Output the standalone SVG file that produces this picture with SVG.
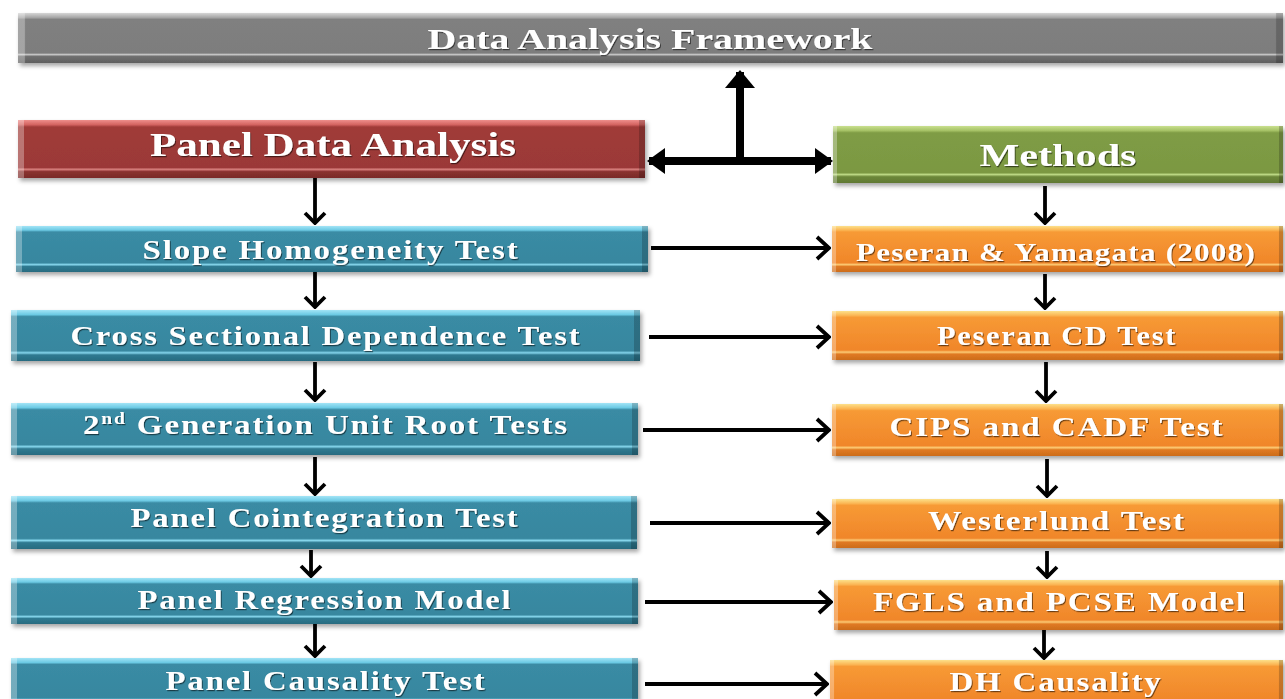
<svg xmlns="http://www.w3.org/2000/svg" width="1285" height="699" viewBox="0 0 1285 699">
  <defs>
    <!-- vertical bevel gradients per colour -->
    <linearGradient id="gGray" x1="0" y1="0" x2="0" y2="1">
      <stop offset="0" stop-color="#d6d6d6"/>
      <stop offset="0.09" stop-color="#a6a6a6"/>
      <stop offset="0.13" stop-color="#808080"/>
      <stop offset="0.80" stop-color="#7d7d7d"/>
      <stop offset="0.83" stop-color="#c4c4c4"/>
      <stop offset="0.87" stop-color="#6f6f6f"/>
      <stop offset="1" stop-color="#5e5e5e"/>
    </linearGradient>
    <linearGradient id="gRed" x1="0" y1="0" x2="0" y2="1">
      <stop offset="0" stop-color="#ef8f8c"/>
      <stop offset="0.08" stop-color="#d46461"/>
      <stop offset="0.12" stop-color="#a03b39"/>
      <stop offset="0.82" stop-color="#9b3937"/>
      <stop offset="0.85" stop-color="#d9807e"/>
      <stop offset="0.89" stop-color="#8a3230"/>
      <stop offset="1" stop-color="#7a2b29"/>
    </linearGradient>
    <linearGradient id="gGreen" x1="0" y1="0" x2="0" y2="1">
      <stop offset="0" stop-color="#c9e08f"/>
      <stop offset="0.08" stop-color="#a6c266"/>
      <stop offset="0.12" stop-color="#7f9c45"/>
      <stop offset="0.82" stop-color="#7b9842"/>
      <stop offset="0.85" stop-color="#bcd884"/>
      <stop offset="0.89" stop-color="#6d883a"/>
      <stop offset="1" stop-color="#5f7832"/>
    </linearGradient>
    <linearGradient id="gBlue" x1="0" y1="0" x2="0" y2="1">
      <stop offset="0" stop-color="#a3e4f6"/>
      <stop offset="0.09" stop-color="#6ccae4"/>
      <stop offset="0.13" stop-color="#3a8ba4"/>
      <stop offset="0.80" stop-color="#37879f"/>
      <stop offset="0.84" stop-color="#86d6ec"/>
      <stop offset="0.88" stop-color="#2f7a91"/>
      <stop offset="1" stop-color="#286b80"/>
    </linearGradient>
    <linearGradient id="gOrange" x1="0" y1="0" x2="0" y2="1">
      <stop offset="0" stop-color="#fde08a"/>
      <stop offset="0.09" stop-color="#fbb654"/>
      <stop offset="0.13" stop-color="#f79a35"/>
      <stop offset="0.80" stop-color="#f0862a"/>
      <stop offset="0.84" stop-color="#fcca74"/>
      <stop offset="0.88" stop-color="#e07a22"/>
      <stop offset="1" stop-color="#cc6c1c"/>
    </linearGradient>
    <!-- side bevels -->
    <linearGradient id="gSide" x1="0" y1="0" x2="1" y2="0">
      <stop offset="0" stop-color="#ffffff" stop-opacity="0.3"/>
      <stop offset="0.009" stop-color="#ffffff" stop-opacity="0.3"/>
      <stop offset="0.010" stop-color="#ffffff" stop-opacity="0"/>
      <stop offset="0.990" stop-color="#000000" stop-opacity="0"/>
      <stop offset="0.991" stop-color="#000000" stop-opacity="0.2"/>
      <stop offset="1" stop-color="#000000" stop-opacity="0.2"/>
    </linearGradient>
    <linearGradient id="gSideWide" x1="0" y1="0" x2="1" y2="0">
      <stop offset="0" stop-color="#ffffff" stop-opacity="0.3"/>
      <stop offset="0.005" stop-color="#ffffff" stop-opacity="0.3"/>
      <stop offset="0.006" stop-color="#ffffff" stop-opacity="0"/>
      <stop offset="0.994" stop-color="#000000" stop-opacity="0"/>
      <stop offset="0.995" stop-color="#000000" stop-opacity="0.2"/>
      <stop offset="1" stop-color="#000000" stop-opacity="0.2"/>
    </linearGradient>
    <filter id="shadow" x="-5%" y="-20%" width="110%" height="150%">
      <feDropShadow dx="2" dy="3" stdDeviation="2" flood-color="#000" flood-opacity="0.35"/>
    </filter>
    <filter id="tshadow" x="-5%" y="-30%" width="110%" height="160%">
      <feDropShadow dx="1" dy="1.2" stdDeviation="0.6" flood-color="#000" flood-opacity="0.55"/>
    </filter>
    <marker id="chevH" viewBox="0 0 16 26" refX="14" refY="13" markerWidth="16" markerHeight="26" markerUnits="userSpaceOnUse" orient="auto">
      <path d="M2,2 L14,13 L2,24" fill="none" stroke="#000" stroke-width="3.8"/>
    </marker>
    <marker id="chevV" viewBox="0 0 14 24" refX="12" refY="12" markerWidth="14" markerHeight="24" markerUnits="userSpaceOnUse" orient="auto">
      <path d="M2,2 L12,12 L2,22" fill="none" stroke="#000" stroke-width="3.8"/>
    </marker>
    <marker id="block" viewBox="0 0 18 26" refX="16" refY="13" markerWidth="18" markerHeight="26" markerUnits="userSpaceOnUse" orient="auto-start-reverse">
      <path d="M0,0 L18,13 L0,26 Z" fill="#000"/>
    </marker>
    <marker id="blockUp" viewBox="0 0 18 30" refX="16" refY="15" markerWidth="18" markerHeight="30" markerUnits="userSpaceOnUse" orient="auto">
      <path d="M0,0 L18,15 L0,30 Z" fill="#000"/>
    </marker>
  </defs>

  <style>
    .box { filter: url(#shadow); }
    .gray { fill: url(#gGray); }
    .red { fill: url(#gRed); }
    .green { fill: url(#gGreen); }
    .blue { fill: url(#gBlue); }
    .orange { fill: url(#gOrange); }
    .side { fill: url(#gSide); }
    .lbl { font-family: "Liberation Serif", "Times New Roman", serif; font-weight: bold; fill: #ffffff; text-anchor: middle; filter: url(#tshadow); }
    .big { font-size: 34px; }
    .mid { font-size: 27px; letter-spacing: 1.5px; }
    .sm { font-size: 25px; letter-spacing: 1px; }
    .arr { stroke: #000; stroke-width: 3.8; fill: none; }
    .h { marker-end: url(#chevH); }
    .v { marker-end: url(#chevV); }
    .thick { stroke: #000; stroke-width: 8; fill: none; }
  </style>

  <!-- connectors -->
  <g id="connectors">
    <line class="thick" x1="740" y1="161" x2="740" y2="72" marker-end="url(#blockUp)"/>
    <line class="thick" x1="649" y1="161" x2="831" y2="161" marker-start="url(#block)" marker-end="url(#block)"/>

    <line class="arr v" x1="315" y1="178" x2="315" y2="223"/>
    <line class="arr v" x1="315" y1="272" x2="315" y2="307"/>
    <line class="arr v" x1="315" y1="362" x2="315" y2="400"/>
    <line class="arr v" x1="315" y1="457" x2="315" y2="494"/>
    <line class="arr v" x1="311" y1="550" x2="311" y2="576"/>
    <line class="arr v" x1="315" y1="624" x2="315" y2="656"/>

    <line class="arr v" x1="1045" y1="186" x2="1045" y2="223"/>
    <line class="arr v" x1="1045" y1="274" x2="1045" y2="308"/>
    <line class="arr v" x1="1046" y1="362" x2="1046" y2="401"/>
    <line class="arr v" x1="1047" y1="459" x2="1047" y2="496"/>
    <line class="arr v" x1="1047" y1="551" x2="1047" y2="577"/>
    <line class="arr v" x1="1044" y1="630" x2="1044" y2="658"/>

    <line class="arr h" x1="651" y1="248" x2="829" y2="248"/>
    <line class="arr h" x1="649" y1="337" x2="829" y2="337"/>
    <line class="arr h" x1="643" y1="430" x2="829" y2="430"/>
    <line class="arr h" x1="650" y1="523" x2="829" y2="523"/>
    <line class="arr h" x1="645" y1="602" x2="831" y2="602"/>
    <line class="arr h" x1="645" y1="684" x2="827" y2="684"/>
  </g>

  <!-- header -->
  <g id="framework">
    <rect class="box gray" x="18" y="13" width="1265" height="50"/>
    <rect x="18" y="13" width="1265" height="50" fill="url(#gSideWide)"/>
    <text class="lbl" x="650" y="49" font-size="30" textLength="445" lengthAdjust="spacingAndGlyphs">Data Analysis Framework</text>
  </g>

  <g id="panel-data-analysis">
    <rect class="box red" x="18" y="120" width="627" height="58"/>
    <rect class="side" x="18" y="120" width="627" height="58"/>
    <text class="lbl big" x="333" y="156" textLength="366" lengthAdjust="spacingAndGlyphs">Panel Data Analysis</text>
  </g>

  <g id="methods">
    <rect class="box green" x="833" y="126" width="450" height="57"/>
    <rect class="side" x="833" y="126" width="450" height="57"/>
    <text class="lbl" x="1058" y="166" font-size="32" textLength="157" lengthAdjust="spacingAndGlyphs">Methods</text>
  </g>

  <!-- left column: analysis steps -->
  <g id="slope-homogeneity">
    <rect class="box blue" x="16" y="226" width="632" height="46"/>
    <rect class="side" x="16" y="226" width="632" height="46"/>
    <text class="lbl mid" x="331" y="259" textLength="377" lengthAdjust="spacingAndGlyphs">Slope Homogeneity Test</text>
  </g>
  <g id="cross-sectional">
    <rect class="box blue" x="11" y="310" width="629" height="51"/>
    <rect class="side" x="11" y="310" width="629" height="51"/>
    <text class="lbl mid" x="326" y="345" textLength="511" lengthAdjust="spacingAndGlyphs">Cross Sectional Dependence Test</text>
  </g>
  <g id="unit-root">
    <rect class="box blue" x="11" y="403" width="627" height="52"/>
    <rect class="side" x="11" y="403" width="627" height="52"/>
    <text class="lbl mid" x="326" y="434" textLength="486" lengthAdjust="spacingAndGlyphs">2<tspan font-size="16" baseline-shift="60%">nd</tspan> Generation Unit Root Tests</text>
  </g>
  <g id="cointegration">
    <rect class="box blue" x="11" y="496" width="626" height="53"/>
    <rect class="side" x="11" y="496" width="626" height="53"/>
    <text class="lbl mid" x="325" y="527" textLength="389" lengthAdjust="spacingAndGlyphs">Panel Cointegration Test</text>
  </g>
  <g id="regression">
    <rect class="box blue" x="11" y="578" width="627" height="46"/>
    <rect class="side" x="11" y="578" width="627" height="46"/>
    <text class="lbl mid" x="325" y="609" textLength="375" lengthAdjust="spacingAndGlyphs">Panel Regression Model</text>
  </g>
  <g id="causality">
    <rect class="box blue" x="11" y="658" width="627" height="50"/>
    <rect class="side" x="11" y="658" width="627" height="50"/>
    <text class="lbl mid" x="326" y="690" textLength="321" lengthAdjust="spacingAndGlyphs">Panel Causality Test</text>
  </g>

  <!-- right column: methods used -->
  <g id="pesaran-yamagata">
    <rect class="box orange" x="832" y="226" width="451" height="46"/>
    <rect class="side" x="832" y="226" width="451" height="46"/>
    <text class="lbl sm" x="1056" y="261" textLength="400" lengthAdjust="spacingAndGlyphs">Peseran &amp; Yamagata (2008)</text>
  </g>
  <g id="pesaran-cd">
    <rect class="box orange" x="832" y="311" width="451" height="49"/>
    <rect class="side" x="832" y="311" width="451" height="49"/>
    <text class="lbl mid" x="1057" y="345" textLength="240" lengthAdjust="spacingAndGlyphs">Peseran CD Test</text>
  </g>
  <g id="cips-cadf">
    <rect class="box orange" x="832" y="404" width="451" height="52"/>
    <rect class="side" x="832" y="404" width="451" height="52"/>
    <text class="lbl mid" x="1057" y="436" textLength="335" lengthAdjust="spacingAndGlyphs">CIPS and CADF Test</text>
  </g>
  <g id="westerlund">
    <rect class="box orange" x="832" y="499" width="451" height="49"/>
    <rect class="side" x="832" y="499" width="451" height="49"/>
    <text class="lbl mid" x="1057" y="530" textLength="258" lengthAdjust="spacingAndGlyphs">Westerlund Test</text>
  </g>
  <g id="fgls-pcse">
    <rect class="box orange" x="834" y="580" width="449" height="50"/>
    <rect class="side" x="834" y="580" width="449" height="50"/>
    <text class="lbl mid" x="1060" y="611" textLength="374" lengthAdjust="spacingAndGlyphs">FGLS and PCSE Model</text>
  </g>
  <g id="dh-causality">
    <rect class="box orange" x="830" y="660" width="453" height="50"/>
    <rect class="side" x="830" y="660" width="453" height="50"/>
    <text class="lbl mid" x="1056" y="691" textLength="213" lengthAdjust="spacingAndGlyphs">DH Causality</text>
  </g>
</svg>
